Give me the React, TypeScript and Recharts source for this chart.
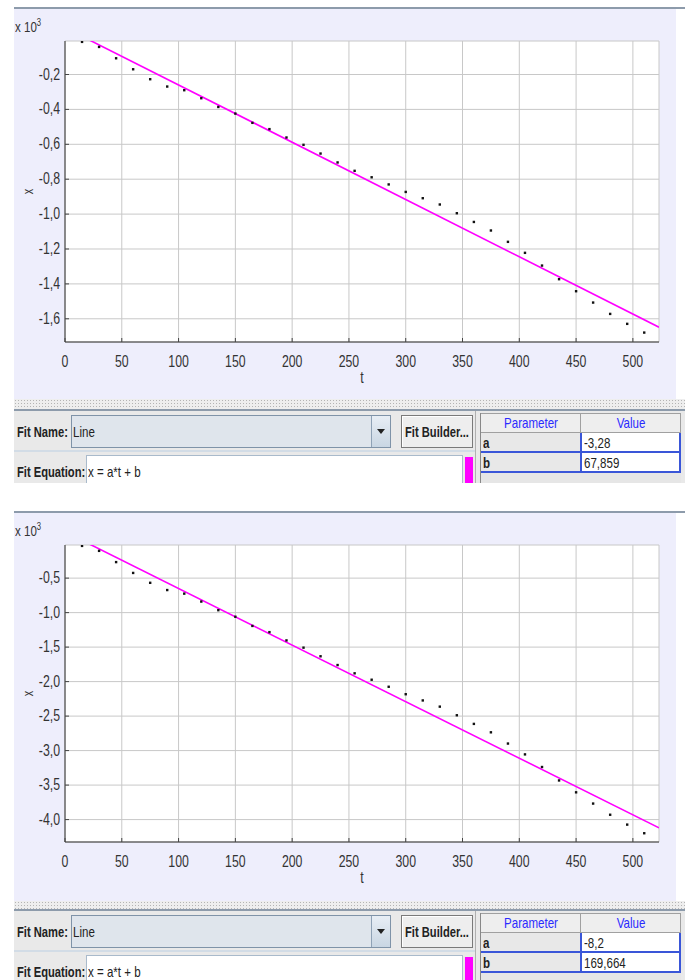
import React from "react";
import { ComposedChart, Scatter, Line, XAxis, YAxis, CartesianGrid } from "recharts";

// sample times (t) shared by both runs
const tValues = [
  15, 30, 45, 60, 75, 90, 105, 120, 135, 150, 165, 180, 195, 210, 225, 240, 255,
  270, 285, 300, 315, 330, 345, 360, 375, 390, 405, 420, 435, 450, 465, 480, 495, 510,
];

// run 1 positions (x)
const xTop = [
  -13, -42, -107, -170, -227, -269, -290, -336, -386, -424, -477, -513, -561, -603,
  -653, -704, -752, -789, -830, -873, -909, -945, -995, -1045, -1094, -1159, -1222,
  -1295, -1373, -1442, -1507, -1572, -1629, -1679,
];

// run 2 positions (x)
const xBottom = [
  -33, -105, -268, -425, -568, -673, -725, -840, -965, -1060, -1193, -1283, -1403,
  -1508, -1633, -1760, -1880, -1973, -2075, -2183, -2273, -2363, -2488, -2613, -2735,
  -2898, -3055, -3238, -3433, -3605, -3768, -3930, -4073, -4198,
];

const tTicks = [0, 50, 100, 150, 200, 250, 300, 350, 400, 450, 500];
const yTicksTop = [-1600, -1400, -1200, -1000, -800, -600, -400, -200];
const yTicksBottom = [-4000, -3500, -3000, -2500, -2000, -1500, -1000, -500];

const fitTop = [
  { t: 0, x: 68 },
  { t: 523, x: -1648 },
];
const fitBottom = [
  { t: 0, x: 170 },
  { t: 523, x: -4119 },
];

const paramsTop = [
  ["a", "-3,28"],
  ["b", "67,859"],
];
const paramsBottom = [
  ["a", "-8,2"],
  ["b", "169,664"],
];

// the java UI font is narrow, so squeeze Liberation Sans horizontally
const FONT = '"Liberation Sans", Arial, sans-serif';
const SX = 0.77;
const INK = "#333";

const fmt = (v: number) => (v / 1000).toFixed(1).replace(".", ",");

function SText(props: {
  x: number;
  y: number;
  anchor?: "start" | "middle" | "end";
  size?: number;
  rotate?: number;
  children: React.ReactNode;
}) {
  const { x, y, anchor = "middle", size = 16, rotate = 0, children } = props;
  return (
    <text
      transform={`translate(${x} ${y}) rotate(${rotate}) scale(${SX} 1)`}
      textAnchor={anchor}
      fontSize={size}
      fontFamily={FONT}
      fill={INK}
    >
      {children}
    </text>
  );
}

// squeezed html text, left aligned
function N({ children, style }: { children: React.ReactNode; style?: React.CSSProperties }) {
  return (
    <span
      style={{
        display: "inline-block",
        whiteSpace: "nowrap",
        transform: `scaleX(${SX})`,
        transformOrigin: "0 50%",
        ...style,
      }}
    >
      {children}
    </span>
  );
}

// squeezed html text, centred in its parent
function NC({ children }: { children: React.ReactNode }) {
  return (
    <span
      style={{
        position: "absolute",
        left: "50%",
        top: "50%",
        whiteSpace: "nowrap",
        transform: `translate(-50%, -50%) scaleX(${SX})`,
      }}
    >
      {children}
    </span>
  );
}

function LeftTick(props: any) {
  const { x, y, payload } = props;
  return (
    <g>
      <line x1={x + 5} x2={x + 9} y1={y} y2={y} stroke="#444" />
      <SText x={x} y={y + 5} anchor="end">
        {fmt(payload.value)}
      </SText>
    </g>
  );
}

function BottomTick(props: any) {
  const { x, y, payload } = props;
  return (
    <g>
      <line x1={x} x2={x} y1={y - 13} y2={y - 17} stroke="#444" />
      <SText x={x} y={y + 12}>{payload.value}</SText>
    </g>
  );
}

const TopTick = (props: any) => (
  <line x1={props.x} x2={props.x} y1={props.y} y2={props.y + 4} stroke="#444" />
);
const RightTick = (props: any) => (
  <line x1={props.x - 4} x2={props.x} y1={props.y} y2={props.y} stroke="#444" />
);

function Plot(props: {
  height: number;
  plotH: number;
  xs: number[];
  yDomain: [number, number];
  yTicks: number[];
  fit: { t: number; x: number }[];
}) {
  const { height, plotH, xs, yDomain, yTicks, fit } = props;
  const points = tValues.map((t, i) => ({ t, x: xs[i] }));
  return (
    <ComposedChart
      width={662}
      height={height}
      margin={{ top: 32, right: 17, left: 6, bottom: height - 32 - plotH - 30 }}
    >
      <CartesianGrid fill="#fff" stroke="#c8c8c8" />
      <XAxis
        dataKey="t"
        type="number"
        domain={[0, 523]}
        ticks={tTicks}
        allowDataOverflow
        height={30}
        tickSize={0}
        tickMargin={13}
        tick={<BottomTick />}
        axisLine={{ stroke: "#333" }}
        label={(p: any) => (
          <SText x={p.viewBox.x + p.viewBox.width / 2} y={p.viewBox.y + 41}>
            t
          </SText>
        )}
      />
      <XAxis
        xAxisId="top"
        orientation="top"
        type="number"
        domain={[0, 523]}
        ticks={tTicks}
        allowDataOverflow
        height={0}
        tickSize={0}
        tickMargin={0}
        tick={<TopTick />}
        axisLine={{ stroke: "#999" }}
      />
      <YAxis
        dataKey="x"
        type="number"
        domain={yDomain}
        ticks={yTicks}
        allowDataOverflow
        width={45}
        tickSize={0}
        tickMargin={5}
        tick={<LeftTick />}
        axisLine={{ stroke: "#333" }}
        label={(p: any) => (
          <SText
            x={p.viewBox.x + 13}
            y={p.viewBox.y + p.viewBox.height / 2}
            rotate={-90}
            size={14}
          >
            x
          </SText>
        )}
      />
      <YAxis
        yAxisId="right"
        orientation="right"
        type="number"
        domain={yDomain}
        ticks={yTicks}
        allowDataOverflow
        width={0}
        tickSize={0}
        tickMargin={0}
        tick={<RightTick />}
        axisLine={{ stroke: "#999" }}
      />
      <Line
        data={fit}
        dataKey="x"
        stroke="#ff00ff"
        strokeWidth={1.6}
        dot={false}
        activeDot={false}
        isAnimationActive={false}
      />
      <Scatter
        data={points}
        dataKey="x"
        fill="#111"
        isAnimationActive={false}
        shape={(p: any) => (
          <rect x={p.cx - 1.2} y={p.cy - 1.2} width={2.4} height={2.4} fill="#111" />
        )}
      />
    </ComposedChart>
  );
}

function Controls({ top, params }: { top: number; params: string[][] }) {
  const abs = (s: React.CSSProperties): React.CSSProperties => ({ position: "absolute", ...s });
  const blue = "#3a56d8";
  return (
    <div
      style={abs({
        left: 14,
        top,
        width: 671,
        height: 72,
        background: "#e9e9e9",
        fontFamily: FONT,
        fontSize: 15,
        color: "#222",
        lineHeight: "16px",
        overflow: "hidden",
      })}
    >
      <div style={abs({ left: 3, top: 13, fontWeight: "bold", fontSize: 14.5 })}>
        <N>Fit Name:</N>
      </div>
      <div
        style={abs({
          left: 57,
          top: 4,
          width: 318,
          height: 31,
          background: "#dfe5ec",
          border: "1px solid #7f93a8",
        })}
      >
        <div style={abs({ left: 1, top: 8 })}>
          <N>Line</N>
        </div>
        <div
          style={abs({
            right: 0,
            top: 0,
            width: 18,
            height: 31,
            borderLeft: "1px solid #8fa2b6",
            background: "linear-gradient(#e8eef5, #c9d6e3)",
          })}
        >
          <div
            style={abs({
              left: 5,
              top: 13,
              width: 0,
              height: 0,
              borderLeft: "4px solid transparent",
              borderRight: "4px solid transparent",
              borderTop: "5px solid #222",
            })}
          />
        </div>
      </div>
      <div
        style={abs({
          left: 387,
          top: 4,
          width: 70,
          height: 31,
          background: "#eeeeee",
          border: "1px solid #7a7a7a",
          boxShadow: "inset 1px 1px 0 #fff",
          fontWeight: "bold",
          fontSize: 14.5,
        })}
      >
        <NC>Fit Builder...</NC>
      </div>
      <div style={abs({ left: 0, top: 39, width: 461, height: 2, background: "#d2dce6" })} />
      <div style={abs({ left: 3, top: 53, fontWeight: "bold", fontSize: 14.5 })}>
        <N>Fit Equation:</N>
      </div>
      <div
        style={abs({
          left: 72,
          top: 44,
          width: 375,
          height: 30,
          background: "#fff",
          border: "1px solid #a9bacb",
        })}
      >
        <div style={abs({ left: 1, top: 8 })}>
          <N>x = a*t + b</N>
        </div>
      </div>
      <div style={abs({ left: 451, top: 46, width: 8, height: 26, background: "#ff00ff" })} />
      <div style={abs({ left: 461, top: 0, width: 1, height: 72, background: "#b0b0b0" })} />
      {/* parameter table */}
      <div
        style={abs({
          left: 466,
          top: 2,
          width: 200,
          height: 70,
          background: "#e6e6e6",
          borderLeft: "1px solid #888",
        })}
      >
        {["Parameter", "Value"].map((h, i) => (
          <div
            key={h}
            style={abs({
              left: i * 100,
              top: 0,
              width: 99,
              height: 18,
              background: "#eeeeee",
              borderTop: "1px solid #a0a0a0",
              borderRight: "1px solid #a0a0a0",
              borderBottom: "1px solid #a0a0a0",
              color: "#2a2aff",
            })}
          >
            <NC>{h}</NC>
          </div>
        ))}
        {params.map(([name, value], r) => (
          <React.Fragment key={name}>
            <div
              style={abs({
                left: 0,
                top: 20 + r * 20,
                width: 97,
                height: 18,
                paddingLeft: 2,
                background: "#e8e8e8",
                fontWeight: "bold",
                lineHeight: "20px",
              })}
            >
              <N>{name}</N>
            </div>
            <div
              style={abs({
                left: 100,
                top: 20 + r * 20,
                width: 97,
                height: 18,
                paddingLeft: 3,
                background: "#fff",
                lineHeight: "20px",
              })}
            >
              <N>{value}</N>
            </div>
            <div style={abs({ left: 0, top: 38 + r * 20, width: 200, height: 2, background: blue })} />
          </React.Fragment>
        ))}
        <div style={abs({ left: 99, top: 20, width: 2, height: 40, background: blue })} />
        <div style={abs({ left: 198, top: 20, width: 2, height: 40, background: blue })} />
      </div>
    </div>
  );
}

function Panel(props: {
  ruleY: number;
  chartH: number;
  plotH: number;
  splitH: number;
  xs: number[];
  yDomain: [number, number];
  yTicks: number[];
  fit: { t: number; x: number }[];
  params: string[][];
}) {
  const { ruleY, chartH, plotH, splitH, xs, yDomain, yTicks, fit, params } = props;
  const chartY = ruleY + 2;
  const splitY = chartY + chartH;
  return (
    <>
      <div style={{ position: "absolute", left: 14, top: ruleY, width: 671, height: 2, background: "#8d9bab" }} />
      <div
        style={{
          position: "absolute",
          left: 14,
          top: chartY,
          width: 662,
          height: chartH,
          background: "#eeeefc",
        }}
      >
        <div
          style={{
            position: "absolute",
            left: 1,
            top: 10,
            fontFamily: FONT,
            fontSize: 15,
            color: INK,
            lineHeight: "16px",
          }}
        >
          <N>
            x 10<sup style={{ fontSize: 10, verticalAlign: "6px", lineHeight: 0 }}>3</sup>
          </N>
        </div>
        <Plot height={chartH} plotH={plotH} xs={xs} yDomain={yDomain} yTicks={yTicks} fit={fit} />
      </div>
      <div
        style={{
          position: "absolute",
          left: 14,
          top: splitY,
          width: 671,
          height: splitH,
          backgroundColor: "#eeeeee",
          backgroundImage: "radial-gradient(circle, #b4b4b4 0.7px, transparent 0.9px)",
          backgroundSize: "3px 3px",
        }}
      />
      <div
        style={{
          position: "absolute",
          left: 14,
          top: splitY + splitH,
          width: 671,
          height: 2,
          background: "#8d9bab",
        }}
      />
      <Controls top={splitY + splitH + 2} params={params} />
    </>
  );
}

export default function App() {
  return (
    <div
      style={{
        position: "absolute",
        left: 0,
        top: 0,
        width: 685,
        height: 980,
        overflow: "hidden",
        background: "#fff",
      }}
    >
      <Panel
        ruleY={7}
        chartH={390}
        plotH={301}
        splitH={10}
        xs={xTop}
        yDomain={[-1733, -8]}
        yTicks={yTicksTop}
        fit={fitTop}
        params={paramsTop}
      />
      <Panel
        ruleY={511}
        chartH={388}
        plotH={297}
        splitH={8}
        xs={xBottom}
        yDomain={[-4325, -20]}
        yTicks={yTicksBottom}
        fit={fitBottom}
        params={paramsBottom}
      />
    </div>
  );
}
